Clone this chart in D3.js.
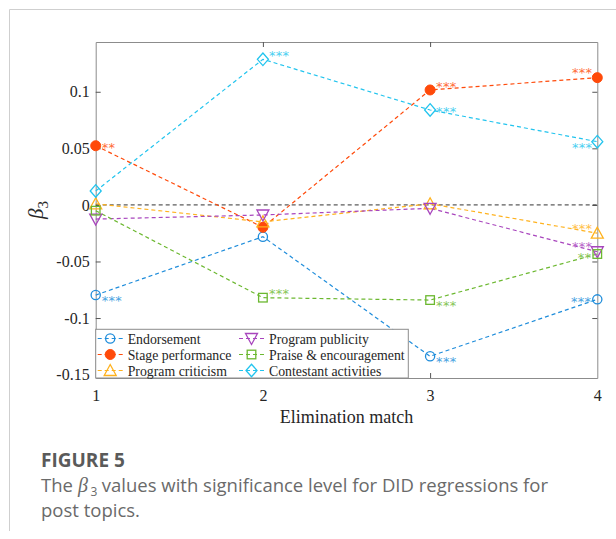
<!DOCTYPE html>
<html>
<head>
<meta charset="utf-8">
<script src="https://cdn.jsdelivr.net/npm/d3@7"></script>
<style>
html,body{margin:0;padding:0;background:#fff;}
svg{display:block;}
svg text{white-space:pre;}
</style>
</head>
<body>
<svg id="chart" width="616" height="539"></svg>
<script>
// ---------- data ----------
const matches = [1, 2, 3, 4];
const yTicks = [0.1, 0.05, 0, -0.05, -0.1, -0.15];
const yTickLabels = ["0.1", "0.05", "0", "-0.05", "-0.1", "-0.15"];
const xTickLabels = ["1", "2", "3", "4"];

const seriesNames = ["Endorsement", "Stage performance", "Program criticism",
                     "Program publicity", "Praise & encouragement", "Contestant activities"];
const seriesColors = ["#1f8ddb", "#ff4a0a", "#ffb21e", "#a845bd", "#6cb830", "#22c4ee"];
const seriesMarkers = ["circle", "dot", "triUp", "triDown", "square", "diamond"];

const endorsement = [-0.0797, -0.0281, -0.1338, -0.0835];
const stagePerformance = [0.0523, -0.0198, 0.1016, 0.1125];
const programCriticism = [0.001, -0.015, 0.001, -0.025];
const programPublicity = [-0.0125, -0.0089, -0.003, -0.0414];
const praiseEncouragement = [-0.0051, -0.082, -0.0841, -0.0434];
const contestantActivities = [0.0123, 0.1287, 0.0839, 0.0559];

// significance stars and where they sit relative to the marker
const endorsementSig = ["***", "", "***", "***"];
const stagePerformanceSig = ["**", "", "***", "***"];
const programCriticismSig = ["", "", "", "***"];
const programPublicitySig = ["", "", "", "***"];
const praiseEncouragementSig = ["", "***", "***", "**"];
const contestantActivitiesSig = ["", "***", "***", "***"];

const endorsementSide = ["rb", "", "rb", "l"];
const stagePerformanceSide = ["r", "", "ra", "la"];
const programCriticismSide = ["", "", "", "la"];
const programPublicitySide = ["", "", "", "lA"];
const praiseEncouragementSide = ["", "ra", "rb", "lB"];
const contestantActivitiesSide = ["", "ra", "r", "lb"];

const allValues = [endorsement, stagePerformance, programCriticism, programPublicity, praiseEncouragement, contestantActivities];
const allSig = [endorsementSig, stagePerformanceSig, programCriticismSig, programPublicitySig, praiseEncouragementSig, contestantActivitiesSig];
const allSide = [endorsementSide, stagePerformanceSide, programCriticismSide, programPublicitySide, praiseEncouragementSide, contestantActivitiesSide];

// ---------- layout ----------
const svg = d3.select("#chart");
const L = 95.7, R = 597.3, T = 42, B = 378;
const x = d3.scaleLinear().domain([1, 4]).range([L, R]);
const y = d3.scaleLinear().domain([-0.153, 0.144]).range([B, T]);
const axisColor = "#8c8c8c";
const textColor = "#262626";
const serif = "'Liberation Serif','Times New Roman',serif";

// card frame
svg.append("path")
  .attr("d", "M9.5,531 V9.5 H616")
  .attr("fill", "none").attr("stroke", "#cfcfcf").attr("stroke-width", 1);

svg.append("rect").attr("x", L).attr("y", T).attr("width", R - L).attr("height", B - T).attr("fill", "#fff");

// axes (inward ticks, mirrored)
const tickLen = 5;
const gBottom = svg.append("g").attr("transform", `translate(0,${B})`)
  .call(d3.axisBottom(x).tickValues(matches).tickFormat((d, i) => xTickLabels[i]).tickSizeInner(-tickLen).tickSizeOuter(0).tickPadding(12));
const gTop = svg.append("g").attr("transform", `translate(0,${T})`)
  .call(d3.axisTop(x).tickValues(matches).tickFormat("").tickSizeInner(-tickLen).tickSizeOuter(0));
const gLeft = svg.append("g").attr("transform", `translate(${L},0)`)
  .call(d3.axisLeft(y).tickValues(yTicks).tickFormat((d, i) => yTickLabels[i]).tickSizeInner(-tickLen).tickSizeOuter(0).tickPadding(6));
const gRight = svg.append("g").attr("transform", `translate(${R},0)`)
  .call(d3.axisRight(y).tickValues(yTicks).tickFormat("").tickSizeInner(-tickLen).tickSizeOuter(0));

[gBottom, gTop, gLeft, gRight].forEach(g => {
  g.select(".domain").attr("stroke", axisColor).attr("stroke-width", 1);
  g.selectAll(".tick line").attr("stroke", "#555").attr("stroke-width", 1);
  g.selectAll(".tick text").attr("fill", textColor).style("font-family", serif).style("font-size", "16px");
});
gBottom.selectAll(".tick text").attr("dy", "0.71em");
gBottom.selectAll(".tick line").filter(d => d === 1 || d === 4).attr("stroke", "none");
gTop.selectAll(".tick line").filter(d => d === 1 || d === 4).attr("stroke", "none");
gLeft.selectAll(".tick line").filter(d => d === -0.15).attr("stroke", "none");
gRight.selectAll(".tick line").filter(d => d === -0.15).attr("stroke", "none");

// zero reference line
svg.append("line")
  .attr("x1", L).attr("x2", R).attr("y1", y(0)).attr("y2", y(0))
  .attr("stroke", "#333").attr("stroke-width", 1).attr("stroke-dasharray", "4,3");

function drawMarker(g, type, cx, cy, color) {
  if (type === "circle") {
    g.append("circle").attr("cx", cx).attr("cy", cy).attr("r", 4.6)
      .attr("fill", "none").attr("stroke", color).attr("stroke-width", 1.3);
  } else if (type === "dot") {
    g.append("circle").attr("cx", cx).attr("cy", cy).attr("r", 5)
      .attr("fill", color).attr("stroke", color).attr("stroke-width", 1);
  } else if (type === "triUp") {
    g.append("path").attr("d", `M${cx},${cy - 6} L${cx + 6},${cy + 5} L${cx - 6},${cy + 5} Z`)
      .attr("fill", "none").attr("stroke", color).attr("stroke-width", 1.3);
  } else if (type === "triDown") {
    g.append("path").attr("d", `M${cx},${cy + 6} L${cx + 6},${cy - 5} L${cx - 6},${cy - 5} Z`)
      .attr("fill", "none").attr("stroke", color).attr("stroke-width", 1.3);
  } else if (type === "square") {
    g.append("rect").attr("x", cx - 4.3).attr("y", cy - 4.3).attr("width", 8.6).attr("height", 8.6)
      .attr("fill", "none").attr("stroke", color).attr("stroke-width", 1.3);
  } else if (type === "diamond") {
    g.append("path").attr("d", `M${cx},${cy - 6.3} L${cx + 5.5},${cy} L${cx},${cy + 6.3} L${cx - 5.5},${cy} Z`)
      .attr("fill", "none").attr("stroke", color).attr("stroke-width", 1.3);
  }
}

const line = d3.line().x((d, i) => x(matches[i])).y(d => y(d));
const plotG = svg.append("g");

allValues.forEach((vals, si) => {
  plotG.append("path").datum(vals)
    .attr("d", line)
    .attr("fill", "none")
    .attr("stroke", seriesColors[si])
    .attr("stroke-width", 1.2)
    .attr("stroke-dasharray", "4,3");
});

const starFs = 13;
const sideOffsets = {
  r:  {dx: 6,  dy: -1, anchor: "start"},
  ra: {dx: 6,  dy: -6, anchor: "start"},
  rb: {dx: 6,  dy: 3,  anchor: "start"},
  l:  {dx: -6, dy: 0,  anchor: "end"},
  la: {dx: -5, dy: -7, anchor: "end"},
  lA: {dx: -5, dy: -8, anchor: "end"},
  lB: {dx: -6, dy: 1.5, anchor: "end"},
  lb: {dx: -5, dy: 4,  anchor: "end"}
};
allValues.forEach((vals, si) => {
  const g = plotG.append("g");
  const starColor = d3.interpolateRgb(seriesColors[si], "#ffffff")(0.18);
  vals.forEach((v, i) => {
    drawMarker(g, seriesMarkers[si], x(matches[i]), y(v), seriesColors[si]);
    const s = allSig[si][i];
    if (s) {
      const o = sideOffsets[allSide[si][i]];
      g.append("text")
        .attr("x", x(matches[i]) + o.dx)
        .attr("y", y(v) + o.dy + starFs * 0.52)
        .attr("text-anchor", o.anchor)
        .attr("fill", starColor)
        .style("font-family", "'DejaVu Sans',sans-serif")
        .style("font-size", starFs + "px")
        .style("letter-spacing", "0.3px")
        .text(s);
    }
  });
});

// axis labels
svg.append("text")
  .attr("x", (L + R) / 2).attr("y", 423)
  .attr("text-anchor", "middle").attr("fill", textColor)
  .style("font-family", serif).style("font-size", "18px")
  .text("Elimination match");

const yl = svg.append("text")
  .attr("transform", `translate(43,210) rotate(-90)`)
  .attr("text-anchor", "middle").attr("fill", textColor)
  .style("font-family", serif).style("font-size", "21px");
yl.append("tspan").style("font-style", "italic").text("β");
yl.append("tspan").attr("dy", 5).style("font-size", "15px").text("3");

// legend
const lgX0 = L, lgY0 = 329.3, lgX1 = 408.3, lgY1 = B;
svg.append("rect").attr("x", lgX0).attr("y", lgY0).attr("width", lgX1 - lgX0).attr("height", lgY1 - lgY0)
  .attr("fill", "#fff").attr("stroke", axisColor).attr("stroke-width", 1);
const rowsY = [338.5, 354.5, 370.5];
const colX = [96.7, 238];
seriesNames.forEach((name, si) => {
  const col = Math.floor(si / 3), row = si % 3;
  const lx = colX[col], ly = rowsY[row];
  const g = svg.append("g");
  g.append("line").attr("x1", lx + 1).attr("x2", lx + 26).attr("y1", ly).attr("y2", ly)
    .attr("stroke", seriesColors[si]).attr("stroke-width", 1.2).attr("stroke-dasharray", "4,3");
  drawMarker(g, seriesMarkers[si], lx + 13.5, ly, seriesColors[si]);
  g.append("text").attr("x", lx + 31).attr("y", ly + 5)
    .attr("fill", textColor)
    .style("font-family", serif).style("font-size", "13.8px")
    .text(name);
});

// caption
const sans = "'Open Sans','Noto Sans',sans-serif";
svg.append("text").attr("x", 41).attr("y", 467)
  .attr("fill", "#5a5a5a").style("font-family", sans).style("font-weight", "700").style("font-size", "19px")
  .text("FIGURE 5");
const capColor = "#6a6a6a";
const capY = 492;
let cx = 41;
const tThe = svg.append("text").attr("x", cx).attr("y", capY).attr("fill", capColor)
  .style("font-family", sans).style("font-size", "18.5px").text("The");
cx += tThe.node().getComputedTextLength() + 5;
const tBeta = svg.append("text").attr("x", cx).attr("y", capY).attr("fill", capColor)
  .style("font-family", serif).style("font-style", "italic").style("font-size", "20px").text("β");
cx += tBeta.node().getComputedTextLength() + 2.5;
const tSub = svg.append("text").attr("x", cx).attr("y", capY + 4).attr("fill", capColor)
  .style("font-family", sans).style("font-size", "12px").text("3");
cx += tSub.node().getComputedTextLength() + 4.5;
svg.append("text").attr("x", cx).attr("y", capY).attr("fill", capColor)
  .style("font-family", sans).style("font-size", "18.5px")
  .text("values with significance level for DID regressions for");
svg.append("text").attr("x", 41).attr("y", 517)
  .attr("fill", capColor).style("font-family", sans).style("font-size", "18.5px")
  .text("post topics.");
</script>
</body>
</html>
